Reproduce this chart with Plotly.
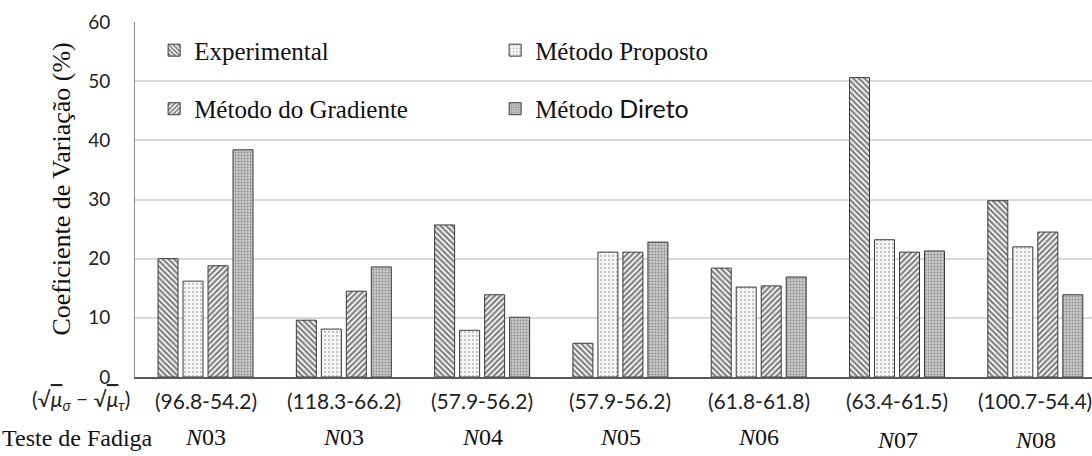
import plotly.graph_objects as go

# Fatigue tests and stress ranges for each group of bars
testes = ["<i>N</i>03", "<i>N</i>03", "<i>N</i>04", "<i>N</i>05", "<i>N</i>06", "<i>N</i>07", "<i>N</i>08"]
faixas = ["(96.8-54.2)", "(118.3-66.2)", "(57.9-56.2)", "(57.9-56.2)", "(61.8-61.8)", "(63.4-61.5)", "(100.7-54.4)"]

# Coefficient of variation (%) per method
experimental = [20.0, 9.6, 25.7, 5.7, 18.4, 50.6, 29.8]
metodo_proposto = [16.2, 8.1, 7.9, 21.1, 15.2, 23.2, 22.0]
metodo_gradiente = [18.8, 14.5, 13.9, 21.1, 15.4, 21.1, 24.5]
metodo_direto = [38.4, 18.6, 10.1, 22.8, 16.9, 21.3, 13.9]

y_ticks = [0, 10, 20, 30, 40, 50, 60]

SERIF = "Liberation Serif"
SANS = "Lato"
EDGE = "#3a3a3a"

x = list(range(len(testes)))

series = [
    ("Experimental", experimental,
     dict(shape="\\", fgcolor="#000000", bgcolor="white", size=4, solidity=0.55), "legend"),
    ("Método Proposto", metodo_proposto,
     dict(shape=".", fgcolor="#8a8a8a", bgcolor="#f6f6f6", size=4, solidity=0.25), "legend"),
    ("Método do Gradiente", metodo_gradiente,
     dict(shape="/", fgcolor="#000000", bgcolor="white", size=4, solidity=0.55), "legend2"),
    (f"Método <span style='font-family:{SANS}'>Direto</span>", metodo_direto,
     dict(shape=".", fgcolor="#505050", bgcolor="#c8c8c8", size=3, solidity=0.3), "legend2"),
]

fig = go.Figure()
for name, vals, pattern, leg in series:
    fig.add_trace(go.Bar(
        x=x, y=vals, name=name, legend=leg,
        marker=dict(color="white", pattern=pattern,
                    line=dict(color=EDGE, width=1)),
    ))

annotations = []
for i, (faixa, teste) in enumerate(zip(faixas, testes)):
    annotations.append(dict(
        x=i, y=-0.066, xref="x", yref="paper", text=faixa, showarrow=False,
        font=dict(family=SANS, size=21, color="#222"), xanchor="center", yanchor="middle"))
    yb = 455 if i >= 5 else 452
    annotations.append(dict(
        x=i, y=(377.5 - yb) / 355, xref="x", yref="paper", text=teste, showarrow=False,
        font=dict(family=SERIF, size=24, color="#111"), xanchor="center", yanchor="bottom"))

annotations.append(dict(
    x=0.0, y=-0.066, xref="paper", yref="paper", xshift=-54,
    text="(√<span style='text-decoration:overline'><i>μ</i></span><sub><i>σ</i></sub> − √<span style='text-decoration:overline'><i>μ</i></span><sub><i>τ</i></sub>)",
    showarrow=False, font=dict(family=SANS, size=21, color="#222"),
    xanchor="center", yanchor="middle"))
annotations.append(dict(
    x=0.0, y=(377.5 - 453) / 355, xref="paper", yref="paper", xshift=-58,
    text="Teste de Fadiga", showarrow=False,
    font=dict(family=SERIF, size=24, color="#111"), xanchor="center", yanchor="bottom"))
annotations.append(dict(
    x=0.0, y=0.528, xref="paper", yref="paper", xshift=-73,
    text="Coeficiente de Variação (%)", textangle=-90, showarrow=False,
    font=dict(family=SERIF, size=26, color="#111"), xanchor="center", yanchor="middle"))

legend_common = dict(
    orientation="h", xanchor="left", yanchor="middle",
    entrywidth=296, entrywidthmode="pixels",
    font=dict(family=SERIF, size=25, color="#111"),
    bgcolor="rgba(0,0,0,0)", borderwidth=0, traceorder="normal",
)

fig.update_layout(
    width=1092, height=456,
    margin=dict(l=135, r=0, t=22, b=79),
    paper_bgcolor="white", plot_bgcolor="white",
    barmode="group", bargap=0.277, bargroupgap=0.2,
    showlegend=True,
    legend=dict(x=0.02, y=0.92, **legend_common),
    legend2=dict(x=0.02, y=0.755, **legend_common),
    xaxis=dict(range=[-0.51, 6.41], showticklabels=False, showgrid=False,
               zeroline=False, showline=True, linecolor="#595959", linewidth=2,
               ticks=""),
    yaxis=dict(range=[0, 60], tickvals=y_ticks, showgrid=True,
               gridcolor="#d9d9d9", gridwidth=1.5, zeroline=False,
               showline=True, linecolor="#8c8c8c", linewidth=1,
               ticks="", ticklabelstandoff=20,
               tickfont=dict(family=SANS, size=19, color="#222")),
    annotations=annotations,
)

fig.write_html("out.html")
